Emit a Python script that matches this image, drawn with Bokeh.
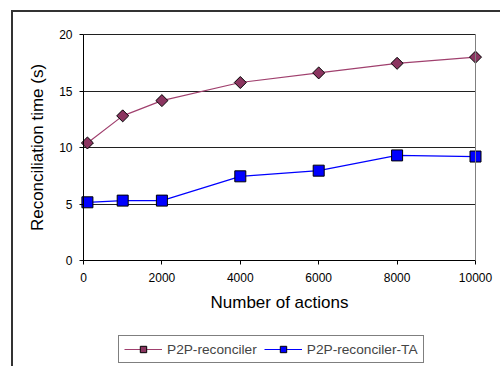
import math
from bokeh.plotting import figure
from bokeh.models import Legend, LegendItem, FixedTicker, Range1d, LinearAxis
from bokeh.embed import file_html
from bokeh.resources import INLINE

actions = [100, 1000, 2000, 4000, 6000, 8000, 10000]
p2p_reconciler = [10.4, 12.8, 14.15, 15.75, 16.6, 17.45, 18.0]
p2p_reconciler_ta = [5.15, 5.3, 5.3, 7.45, 7.95, 9.3, 9.2]
x_ticks = [0, 2000, 4000, 6000, 8000, 10000]
y_ticks = [0, 5, 10, 15, 20]
x_min, x_max = 0, 10000
y_min, y_max = 0, 20

FONT = "Liberation Sans"

# layout (pixels on the canvas); the whole canvas is the frame, the axes are
# pinned at the data limits so that their texts are drawn inside it
W, H = 487, 354
PAD_L, PAD_R, PAD_T, PAD_B = 70, 25, 22, 106
AREA_W = W - PAD_L - PAD_R
AREA_H = H - PAD_T - PAD_B
sx = (x_max - x_min) / AREA_W
sy = (y_max - y_min) / AREA_H

p = figure(width=W, height=H, output_backend="svg", toolbar_location=None,
           x_range=Range1d(x_min - PAD_L * sx, x_max + PAD_R * sx),
           y_range=Range1d(y_min - PAD_B * sy, y_max + PAD_T * sy),
           min_border_left=0, min_border_right=0, min_border_top=0, min_border_bottom=0)
p.margin = (12, 0, 0, 13)
p.styles = {"outline": "2px solid #333333"}

p.outline_line_color = None
p.background_fill_color = "white"
p.border_fill_color = "white"

p.xgrid.visible = False
p.ygrid.grid_line_color = "#202020"
p.ygrid.grid_line_width = 1
p.ygrid.ticker = FixedTicker(ticks=y_ticks)
p.ygrid.bounds = (y_min, y_max)
try:
    p.ygrid.cross_bounds = (x_min, x_max)
except Exception:
    pass

for ax in (p.xaxis[0], p.yaxis[0]):
    ax.axis_line_color = "black"
    ax.major_tick_line_color = "black"
    ax.minor_tick_line_color = None
    ax.major_tick_in = 0
    ax.major_tick_out = 4
    ax.major_label_text_font = FONT
    ax.major_label_text_font_size = "12px"
    ax.major_label_text_color = "black"
    ax.axis_label_text_font = FONT
    ax.axis_label_text_font_size = "17px"
    ax.axis_label_text_font_style = "normal"
    ax.axis_label_text_color = "black"

p.xaxis.ticker = FixedTicker(ticks=x_ticks)
p.xaxis.fixed_location = y_min
p.xaxis.bounds = (x_min, x_max)
p.yaxis.ticker = FixedTicker(ticks=y_ticks)
p.yaxis.fixed_location = x_min
p.yaxis.bounds = (y_min, y_max)
p.xaxis.axis_label = "Number of actions"
p.yaxis.axis_label = "Reconciliation time (s)"
p.xaxis.major_label_standoff = 8
p.xaxis.axis_label_standoff = 8
p.yaxis.major_label_standoff = 7
p.yaxis.axis_label_standoff = 9

# grey right edge of the plot area
right_edge = LinearAxis(fixed_location=x_max, bounds=(y_min, y_max),
                        ticker=FixedTicker(ticks=[]), axis_line_color="#808080",
                        major_tick_line_color=None, minor_tick_line_color=None,
                        major_label_text_font_size="0px")
p.add_layout(right_edge, "right")

c1 = "#A0406E"
c2 = "#0000FF"
l1 = p.line(actions, p2p_reconciler, line_color=c1, line_width=1.2)
m1 = p.scatter(actions, p2p_reconciler, marker="square", angle=math.pi / 4, size=8.5,
               fill_color="#8B3560", line_color="black", line_width=1)
# legend key only (not drawn in the plot area)
m1_key = p.scatter(x=[float("nan")], y=[float("nan")], marker="square", angle=math.pi / 4,
                   size=8, fill_color="#8B3560", line_color="black", line_width=1)
l2 = p.line(actions, p2p_reconciler_ta, line_color=c2, line_width=1.2)
m2 = p.scatter(actions, p2p_reconciler_ta, marker="square", size=11, fill_color=c2,
               line_color="black", line_width=1)

legend = Legend(items=[LegendItem(label="P2P-reconciler", renderers=[l1, m1_key]),
                       LegendItem(label="P2P-reconciler-TA", renderers=[l2, m2])],
                orientation="horizontal", location=(PAD_L + 35, 3))
legend.border_line_color = "black"
legend.border_line_width = 1
legend.background_fill_alpha = 1
legend.label_text_font = FONT
legend.label_text_font_size = "13.7px"
legend.glyph_width = 38
legend.glyph_height = 16
legend.spacing = 7
legend.padding = 5
legend.margin = 0
legend.label_standoff = 5
legend.label_height = 16
p.add_layout(legend, "center")

open("out.html", "w").write(file_html(p, INLINE))
